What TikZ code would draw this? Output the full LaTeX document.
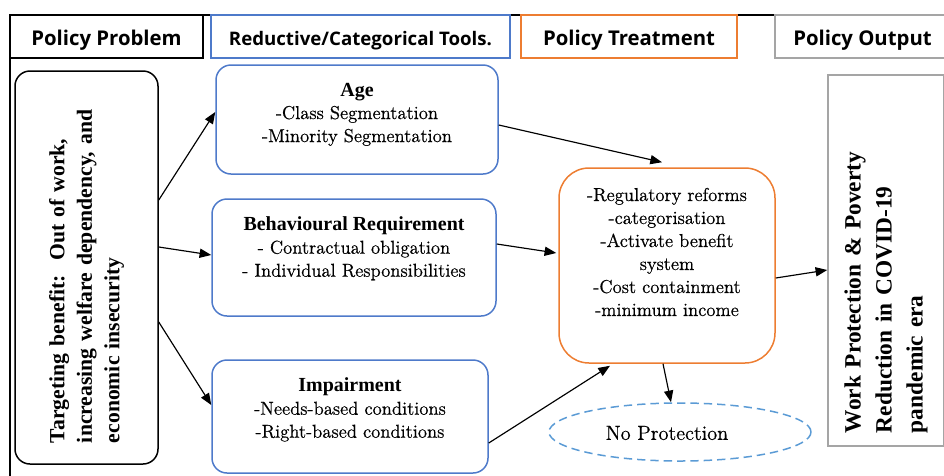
\documentclass[tikz,border=0pt]{standalone}
\usepackage{fontspec}
\setmainfont{Latin Modern Roman}[UprightFeatures={FakeBold=0.6},
  BoldFont={Liberation Serif Bold}, BoldFeatures={Scale=1.07}]
\newfontfamily\headfont{Open Sans}
\usetikzlibrary{positioning, arrows.meta, calc, shapes.geometric}

\definecolor{toolblue}{RGB}{78,122,202}
\definecolor{treatorange}{RGB}{237,125,49}
\definecolor{outgray}{RGB}{165,165,165}
\definecolor{noblue}{RGB}{91,155,213}

\tikzset{
  head/.style={draw, line width=0.9pt, minimum height=25.8pt, inner sep=0pt,
    text height=10.2pt, text depth=0pt,
    font=\headfont\bfseries\fontsize{12.2}{14}\selectfont},
  box/.style={draw, line width=0.9pt, rounded corners=9pt},
  tool/.style={box, draw=toolblue},
  txt/.style={align=center, inner sep=0pt, font=\fontsize{11.2}{13.8}\selectfont},
  vtxt/.style={rotate=90, align=left, font=\bfseries\fontsize{12.15}{16.5}\selectfont},
  >={Triangle[length=7pt,width=5.5pt]}
}

\begin{document}
\begin{tikzpicture}[x=0.6pt, y=-0.6pt, line width=0.7pt]
\useasboundingbox (0,0) rectangle (944,475);
% outer frame
\draw[line width=0.9pt] (10,480) -- (10,15) -- (775,15);
% column heads
\node[head, minimum width=115.8pt] (h0) at (106.5,36.5) {Policy Problem};
\node[head, draw=toolblue, minimum width=179.4pt, font=\headfont\bfseries\fontsize{11.2}{13}\selectfont]
  (h1) at (360.5,36.5) {Reductive/Categorical Tools.};
\node[head, draw=treatorange, minimum width=129.6pt] (h2) at (629,36.5) {Policy Treatment};
\node[head, draw=outgray, minimum width=105pt] (h3) at (862.5,36.5) {Policy Output};

% problem
\node[box, vtxt, minimum width=235.8pt, minimum height=85.8pt, text width=210.6pt] (0) at (86.5,267.5)
  {Targeting benefit:\ \ Out of work,\\ increasing welfare dependency, and\\ economic insecurity};

% tools
\node[tool, minimum width=169.2pt, minimum height=65.4pt] (1) at (357,119.5) {};
\node[txt, below=10.8pt of 1.north] (1t) {\textbf{Age}\\-Class Segmentation\\-Minority Segmentation};
\node[tool, minimum width=170.4pt, minimum height=70.2pt] (2) at (354,257.5) {};
\node[txt, below=10.8pt of 2.north] (2t) {\textbf{Behavioural Requirement}\\- Contractual obligation\\- Individual Responsibilities};
\node[tool, minimum width=165.6pt, minimum height=67.8pt] (3) at (350,416.5) {};
\node[txt, below=10.8pt of 3.north] (3t) {\textbf{Impairment}\\-Needs-based conditions\\-Right-based conditions};

% treatment
\node[box, draw=treatorange, rounded corners=18pt, minimum width=129.6pt, minimum height=117pt] (4) at (667,265.5) {};
\node[txt, below=12pt of 4.north] (4t) {-Regulatory reforms\\-categorisation\\-Activate benefit\\system\\-Cost containment\\-minimum income};

% output
\node[draw=outgray, line width=0.9pt, vtxt, font=\bfseries\fontsize{13.1}{18.6}\selectfont,
  minimum width=222.6pt, minimum height=69.6pt, text width=207pt] (5) at (886,260.5)
  {Work Protection \& Poverty\\ Reduction in COVID-19\\ pandemic era};

% no protection
\node[ellipse, draw=noblue, dash pattern=on 5pt off 3pt, line width=0.9pt,
  minimum width=157.2pt, minimum height=34.8pt] (6) at (680,432) {};
\node[font=\fontsize{12.2}{15}\selectfont] (6t) at (667,433) {No Protection};

\draw[->] ($(0.south)+(0,-67.5)$) -- ($(1.west)+(0,-7.5)$);
\draw[->] ($(0.south)+(0,-20.5)$) -- ($(2.west)+(0,-2.5)$);
\draw[->] ($(0.south)+(0,54.5)$) -- ($(3.west)+(0,-11.5)$);
\draw[->] ($(1.east)+(0,5.5)$) -- ($(4.north)+(-5,-5)$);
\draw[->] ($(2.east)+(0,-13.5)$) -- ($(4.west)+(-2,-12.5)$);
\draw[->] ($(3.east)+(0,26.5)$) -- ($(4.south)+(-57,2)$);
\draw[->] ($(4.east)+(0,12.5)$) -- ($(5.north)+(0,9.5)$);
\draw[->] ($(4.south)+(-4,0)$) -- ($(6.north)+(-9,0)$);
\end{tikzpicture}
\end{document}
